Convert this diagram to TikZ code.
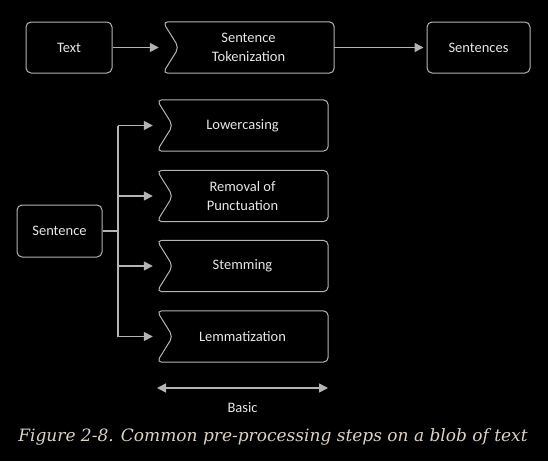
\documentclass[tikz,border=0pt]{standalone}
\usepackage{fontspec}
\setmainfont{Carlito}
\newfontfamily\capfont{DejaVu Serif}
\usetikzlibrary{arrows.meta}
\definecolor{boxline}{HTML}{B4B4B4}
\definecolor{boxtext}{HTML}{E6E6E6}
\definecolor{captext}{HTML}{DCD2C6}

\begin{document}
\begin{tikzpicture}[x=1pt,y=-1pt,
    every node/.style={text=boxtext,font=\fontsize{14.5}{18.5}\selectfont},
    plainbox/.style={draw=boxline,line width=1pt,rounded corners=5pt,minimum height=51pt,inner sep=0pt,align=center},
    stepbox/.style={minimum width=171pt,minimum height=51pt,inner sep=0pt,align=center},
    flow/.style={draw=boxline,line width=1.6pt,-{Triangle[length=9pt,width=9pt]}},
    trunk/.style={draw=boxline,line width=1.6pt}]
    \fill[black] (0,0) rectangle (548,461);
    \useasboundingbox (0,0) rectangle (548,461);

    % top row
    \node[plainbox,minimum width=86pt] (text) at (69,47.5) {Text};
    \node[stepbox] (tok) at (248.5,47.5) {Sentence\\Tokenization};
    \node[plainbox,minimum width=103pt] (sents) at (478.5,47.5) {Sentences};

    % left node and the four steps
    \node[plainbox,minimum width=85pt,minimum height=52pt] (sent) at (59.5,231) {Sentence};
    \node[stepbox] (lower) at (242.5,125.5) {Lowercasing};
    \node[stepbox] (punct) at (242.5,196) {Removal of\\Punctuation};
    \node[stepbox] (stem) at (242.5,266) {Stemming};
    \node[stepbox] (lemma) at (242.5,336.5) {Lemmatization};

    % notched outlines
    \foreach \n in {tok,lower,punct,stem,lemma}
        \draw[boxline,line width=1pt,rounded corners=5pt]
        (\n.north) -- (\n.north east) -- (\n.south east) -- (\n.south west)
        -- ([xshift=16pt]\n.west) -- (\n.north west) -- cycle;

    \draw[flow] (text.east) -- ([xshift=-4pt]tok.west);
    \draw[flow] (tok.east) -- ([xshift=-3pt]sents.west);

    \coordinate (fork) at (118,231);
    \draw[trunk] (sent.east) -- (fork);
    \draw[trunk] (fork |- lower.west) -- (fork |- lemma.west);
    \foreach \n in {lower,punct,stem,lemma}
        \draw[flow] (fork |- \n.west) -- ([xshift=-4pt]\n.west);

    % range of the basic steps
    \coordinate (bl) at (157,388);
    \coordinate (br) at (328,388);
    \draw[boxline,line width=1.6pt,{Triangle[length=9pt,width=9pt]}-{Triangle[length=9pt,width=9pt]}] (bl) -- (br);
    \node (basic) at (242.5,408) {Basic};

    \node[text=captext,font=\capfont\itshape\fontsize{17}{19}\selectfont] (caption) at (273,437)
        {Figure 2-8. Common pre-processing steps on a blob of text};
\end{tikzpicture}
\end{document}
